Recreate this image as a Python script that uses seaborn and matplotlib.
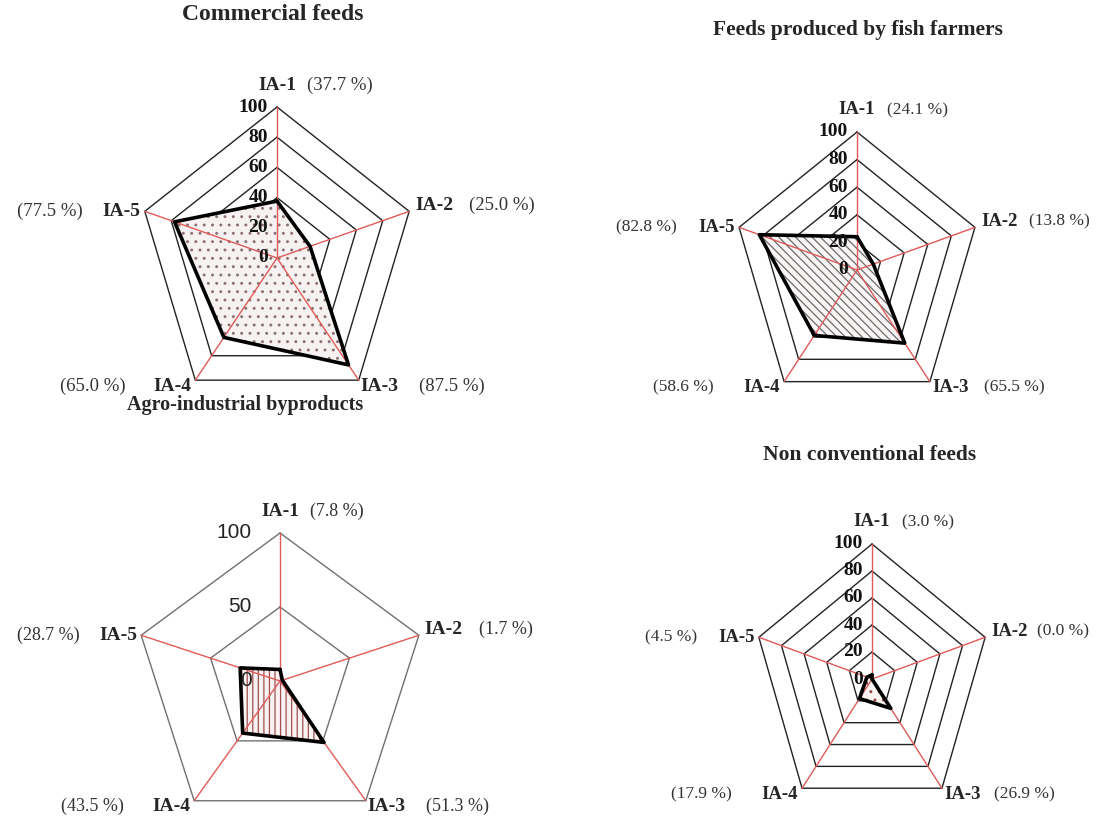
import numpy as np
import matplotlib.pyplot as plt
import seaborn as sns

sns.set_theme(style="white")
plt.rcParams['font.family'] = ['Liberation Serif', 'DejaVu Serif']
plt.rcParams['hatch.linewidth'] = 0.9

W, H = 1098, 825

categories = ['IA-1', 'IA-2', 'IA-3', 'IA-4', 'IA-5']

commercial = [37.7, 25.0, 87.5, 65.0, 77.5]
fish_farmers = [24.1, 13.8, 65.5, 58.6, 82.8]
agro_byproducts = [7.8, 1.7, 51.3, 43.5, 28.7]
non_conventional = [3.0, 0.0, 26.9, 17.9, 4.5]

titles = ['Commercial feeds', 'Feeds produced by fish farmers',
          'Agro-industrial byproducts', 'Non conventional feeds']
ticks_20 = [0, 20, 40, 60, 80, 100]
ticks_50 = [0, 50, 100]

# chart geometry in pixels: centre x, centre y, radius x, radius y
charts = [
    dict(values=commercial, title=titles[0], cx=277, cy=258, rx=139, ry=151,
         ticks=ticks_20, title_xy=(273, 14), title_fs=17, lab_fs=14, pct_fs=13.5, right=60,
         hatch='..', hatch_col='#8a6f6f', face='#f7f2f2'),
    dict(values=fish_farmers, title=titles[1], cx=857, cy=270, rx=124, ry=138,
         ticks=ticks_20, title_xy=(858, 30), title_fs=15.5, lab_fs=13.5, pct_fs=12.5, right=54,
         hatch='\\\\\\\\', hatch_col='#6a6a6a', face='#fbf6f6'),
    dict(values=agro_byproducts, title=titles[2], cx=280, cy=681, rx=146, ry=148,
         ticks=ticks_50, title_xy=(245, 405), title_fs=14.5, lab_fs=14, pct_fs=13, right=60,
         hatch='|||', hatch_col='#a05050', face='#fbf2f2'),
    dict(values=non_conventional, title=titles[3], cx=872, cy=679, rx=119, ry=135,
         ticks=ticks_20, title_xy=(870, 455), title_fs=15.5, lab_fs=13.5, pct_fs=12.5, right=52,
         hatch='..', hatch_col='#904040', face='#fbf2f2'),
]

angles = np.deg2rad(90 - 72 * np.arange(5))
ux, uy = np.cos(angles), np.sin(angles)

fig = plt.figure(figsize=(W / 100, H / 100), dpi=100)

for c in charts:
    fig.text(c['title_xy'][0] / W, 1 - c['title_xy'][1] / H, c['title'],
             ha='center', va='center', fontsize=c['title_fs'], fontweight='bold')

# label offsets in pixels relative to vertex: (dx, dy, ha)
name_off = [(0, 22, 'center'), (6, 6, 'left'), (2, -6, 'left'), (-4, -6, 'right'), (-4, 0, 'right')]

for c in charts:
    r = c['right']
    pct_off = [(30, 22, 'left'), (r, 6, 'left'), (r, -6, 'left'), (-70, -6, 'right'), (-62, 0, 'right')]

    hw, hh = 230, 230
    ax = fig.add_axes([(c['cx'] - hw) / W, 1 - (c['cy'] + hh) / H, 2 * hw / W, 2 * hh / H])
    sx, sy = 100 / c['rx'], 100 / c['ry']   # pixels -> data units
    ax.set_xlim(-hw * sx, hw * sx)
    ax.set_ylim(-hh * sy, hh * sy)
    ax.axis('off')

    sans = c['ticks'] == ticks_50
    ring_col = '#707070' if sans else '#222222'
    for t in c['ticks'][1:]:
        ax.plot(np.append(ux, ux[0]) * t, np.append(uy, uy[0]) * t,
                color=ring_col, lw=1.0, zorder=1)

    vals = np.array(c['values'])
    px, py = ux * vals, uy * vals
    ax.fill(px, py, facecolor=c['face'], edgecolor=c['hatch_col'],
            hatch=c['hatch'], lw=0, zorder=2)

    # spokes
    for i in range(5):
        ax.plot([0, ux[i] * 100], [0, uy[i] * 100], color='#e05a5a', lw=1.0, zorder=3)

    sns.lineplot(x=np.append(px, px[0]), y=np.append(py, py[0]), sort=False,
                 estimator=None, color='black', lw=2.6, ax=ax, zorder=4)

    for t in c['ticks']:
        if sans:
            ax.text(-28 * sx, t, str(t), ha='right', va='center', fontsize=15,
                    family=['Liberation Sans', 'DejaVu Sans'], color='#222222', zorder=5)
        else:
            ax.text(-9 * sx, t, str(t), ha='right', va='center', fontsize=14,
                    fontweight='bold', color='#111111', zorder=5)

    for i, cat in enumerate(categories):
        vx, vy = ux[i] * 100, uy[i] * 100
        dx, dy, ha = name_off[i]
        ax.text(vx + dx * sx, vy + dy * sy, cat, ha=ha, va='center',
                fontsize=c['lab_fs'], fontweight='bold', clip_on=False)
        dx, dy, ha = pct_off[i]
        ax.text(vx + dx * sx, vy + dy * sy, f'({vals[i]:.1f} %)', ha=ha, va='center',
                fontsize=c['pct_fs'], color='#333333', clip_on=False)

fig.savefig('out.png', dpi=100)
